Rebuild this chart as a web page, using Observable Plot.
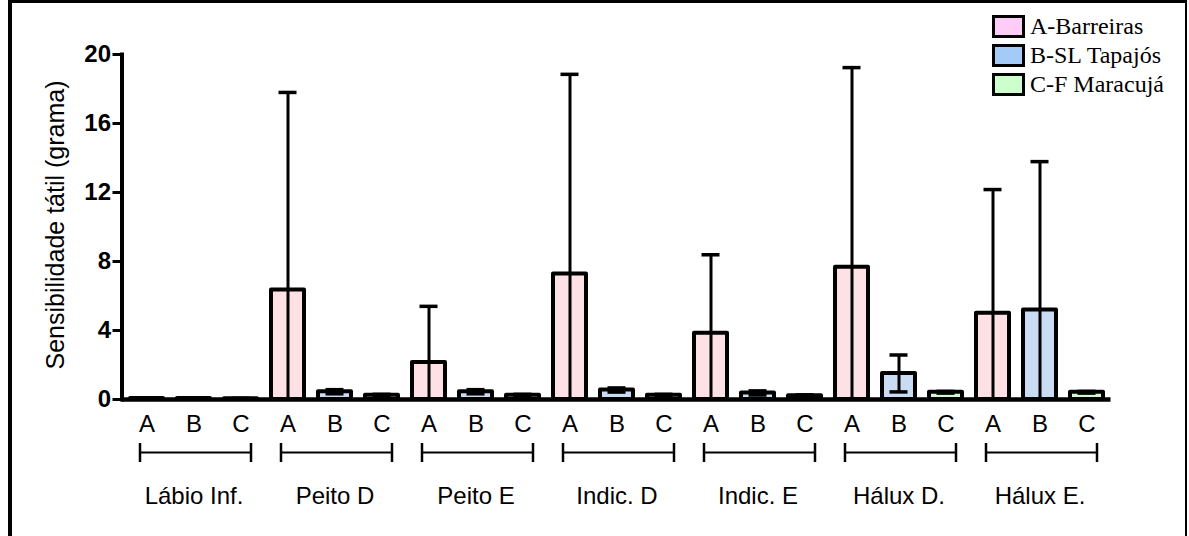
<!DOCTYPE html>
<html>
<head>
<meta charset="utf-8">
<script src="https://cdn.jsdelivr.net/npm/d3@7"></script>
<script src="https://cdn.jsdelivr.net/npm/@observablehq/plot@0.6"></script>
<style>
  body { margin: 0; background: #fff; }
  #wrap { position: relative; width: 1189px; height: 536px; overflow: hidden; background: #fff; }
  #wrap svg { position: absolute; left: 0; top: 0; }
  #border { position: absolute; left: 8px; top: 0; width: 1173px; height: 540px;
            border-left: 4.5px solid #000; border-top: 3.5px solid #000; border-right: 2px solid #000; }
  #legend { position: absolute; left: 992px; top: 12px; font-family: "Liberation Serif", "Times New Roman", serif;
            font-size: 24px; color: #000; }
  #legend .row { display: flex; align-items: center; height: 29px; white-space: nowrap; }
  #legend .sw { box-sizing: border-box; width: 33px; height: 23px; border: 3.5px solid #000; margin-right: 5px; }
</style>
</head>
<body>
<div id="wrap">
  <div id="border"></div>
  <div id="legend"></div>
</div>
<script>
// Body sites (groups) and the three populations measured at each site
const groups = ["Lábio Inf.", "Peito D", "Peito E", "Indic. D", "Indic. E", "Hálux D.", "Hálux E."];
const series = ["A", "B", "C"];
const seriesNames = ["A-Barreiras", "B-SL Tapajós", "C-F Maracujá"];

// Mean tactile sensitivity (g) per site for each population
const meanA = [0.06, 6.35, 2.15, 7.27, 3.84, 7.66, 5.00];
const meanB = [0.06, 0.45, 0.45, 0.55, 0.38, 1.51, 5.19];
const meanC = [0.05, 0.25, 0.25, 0.25, 0.22, 0.42, 0.42];

// Standard deviations (error bars)
const sdA = [0.03, 11.45, 3.25, 11.58, 4.55, 11.58, 7.17];
const sdB = [0.03, 0.12, 0.12, 0.12, 0.12, 1.07, 8.60];
const sdC = [0.02, 0.05, 0.05, 0.05, 0.05, 0.05, 0.05];

const yTicks = [0, 4, 8, 12, 16, 20];

const barFill = ["#fde1e4", "#c9dcf4", "#d4f7d4"];
const legendFill = ["#ffccf8", "#a3cbf5", "#ccffcc"];

const means = [meanA, meanB, meanC];
const sds = [sdA, sdB, sdC];

const rows = [];
groups.forEach((g, i) => {
  series.forEach((s, j) => {
    rows.push({group: g, series: s, key: g + "|" + s, si: j, mean: means[j][i], sd: sds[j][i]});
  });
});
const keys = rows.map(d => d.key);
const lower = d => Math.max(0, d.mean - d.sd);
const upper = d => d.mean + d.sd;

const brackets = groups.map(g => ({group: g, a: g + "|A", b: g + "|B", c: g + "|C"}));

const chart = Plot.plot({
  width: 1189,
  height: 536,
  marginLeft: 121.5,
  marginRight: 78.5,
  marginTop: 54,
  marginBottom: 137,
  style: {fontFamily: "'Liberation Sans', Arial, sans-serif", background: "transparent", color: "#000"},
  x: {type: "band", domain: keys, paddingInner: 0.3, paddingOuter: 0.15, axis: null},
  y: {domain: [0, 20], axis: null},
  marks: [
    // bars
    Plot.barY(rows, {x: "key", y: "mean", fill: d => barFill[d.si], stroke: "#000", strokeWidth: 4, strokeLinejoin: "round"}),
    // error bar stems
    Plot.ruleX(rows, {x: "key", y1: lower, y2: upper, stroke: "#000", strokeWidth: 3}),
    // upper caps
    Plot.tickY(rows, {x: "key", y: upper, stroke: "#000", strokeWidth: 3.5, insetLeft: 7.5, insetRight: 7.5}),
    // lower caps, only where the interval stays above zero
    Plot.tickY(rows.filter(d => d.mean - d.sd > 0), {x: "key", y: lower, stroke: "#000", strokeWidth: 3.5, insetLeft: 7.5, insetRight: 7.5}),
    // baseline and y axis line
    Plot.ruleY([0], {stroke: "#000", strokeWidth: 4.5}),
    Plot.frame({anchor: "left", stroke: "#000", strokeWidth: 4}),
    // y axis ticks and labels
    Plot.axisY({ticks: yTicks, tickSize: 9, tickPadding: 2, strokeWidth: 3, fontSize: 24, fontWeight: "bold", label: null, anchor: "left"}),
    Plot.text(["Sensibilidade tátil (grama)"], {frameAnchor: "left", textAnchor: "middle", rotate: -90, dx: -66.5, dy: -2, fontSize: 25}),
    // population letters under each bar
    Plot.text(rows, {x: "key", y: () => 0, text: "series", dy: 24.5, fontSize: 24}),
    // group brackets
    Plot.ruleY(brackets, {x1: "a", x2: "c", y: () => 0, dy: 53, stroke: "#000", strokeWidth: 2.2, insetLeft: 9.5, insetRight: 6.5}),
    Plot.tickX(brackets, {x: "a", stroke: "#000", strokeWidth: 2.5, insetTop: 326, dy: 63, dx: -7}),
    Plot.tickX(brackets, {x: "c", stroke: "#000", strokeWidth: 2.5, insetTop: 326, dy: 63, dx: 10}),
    // group names
    Plot.text(brackets, {x: "b", y: () => 0, text: "group", dy: 97, fontSize: 24})
  ]
});

document.getElementById("wrap").appendChild(chart);

// legend
const legend = document.getElementById("legend");
seriesNames.forEach((name, j) => {
  const row = document.createElement("div");
  row.className = "row";
  const sw = document.createElement("div");
  sw.className = "sw";
  sw.style.background = legendFill[j];
  const label = document.createElement("span");
  label.textContent = name;
  row.appendChild(sw);
  row.appendChild(label);
  legend.appendChild(row);
});
</script>
</body>
</html>
